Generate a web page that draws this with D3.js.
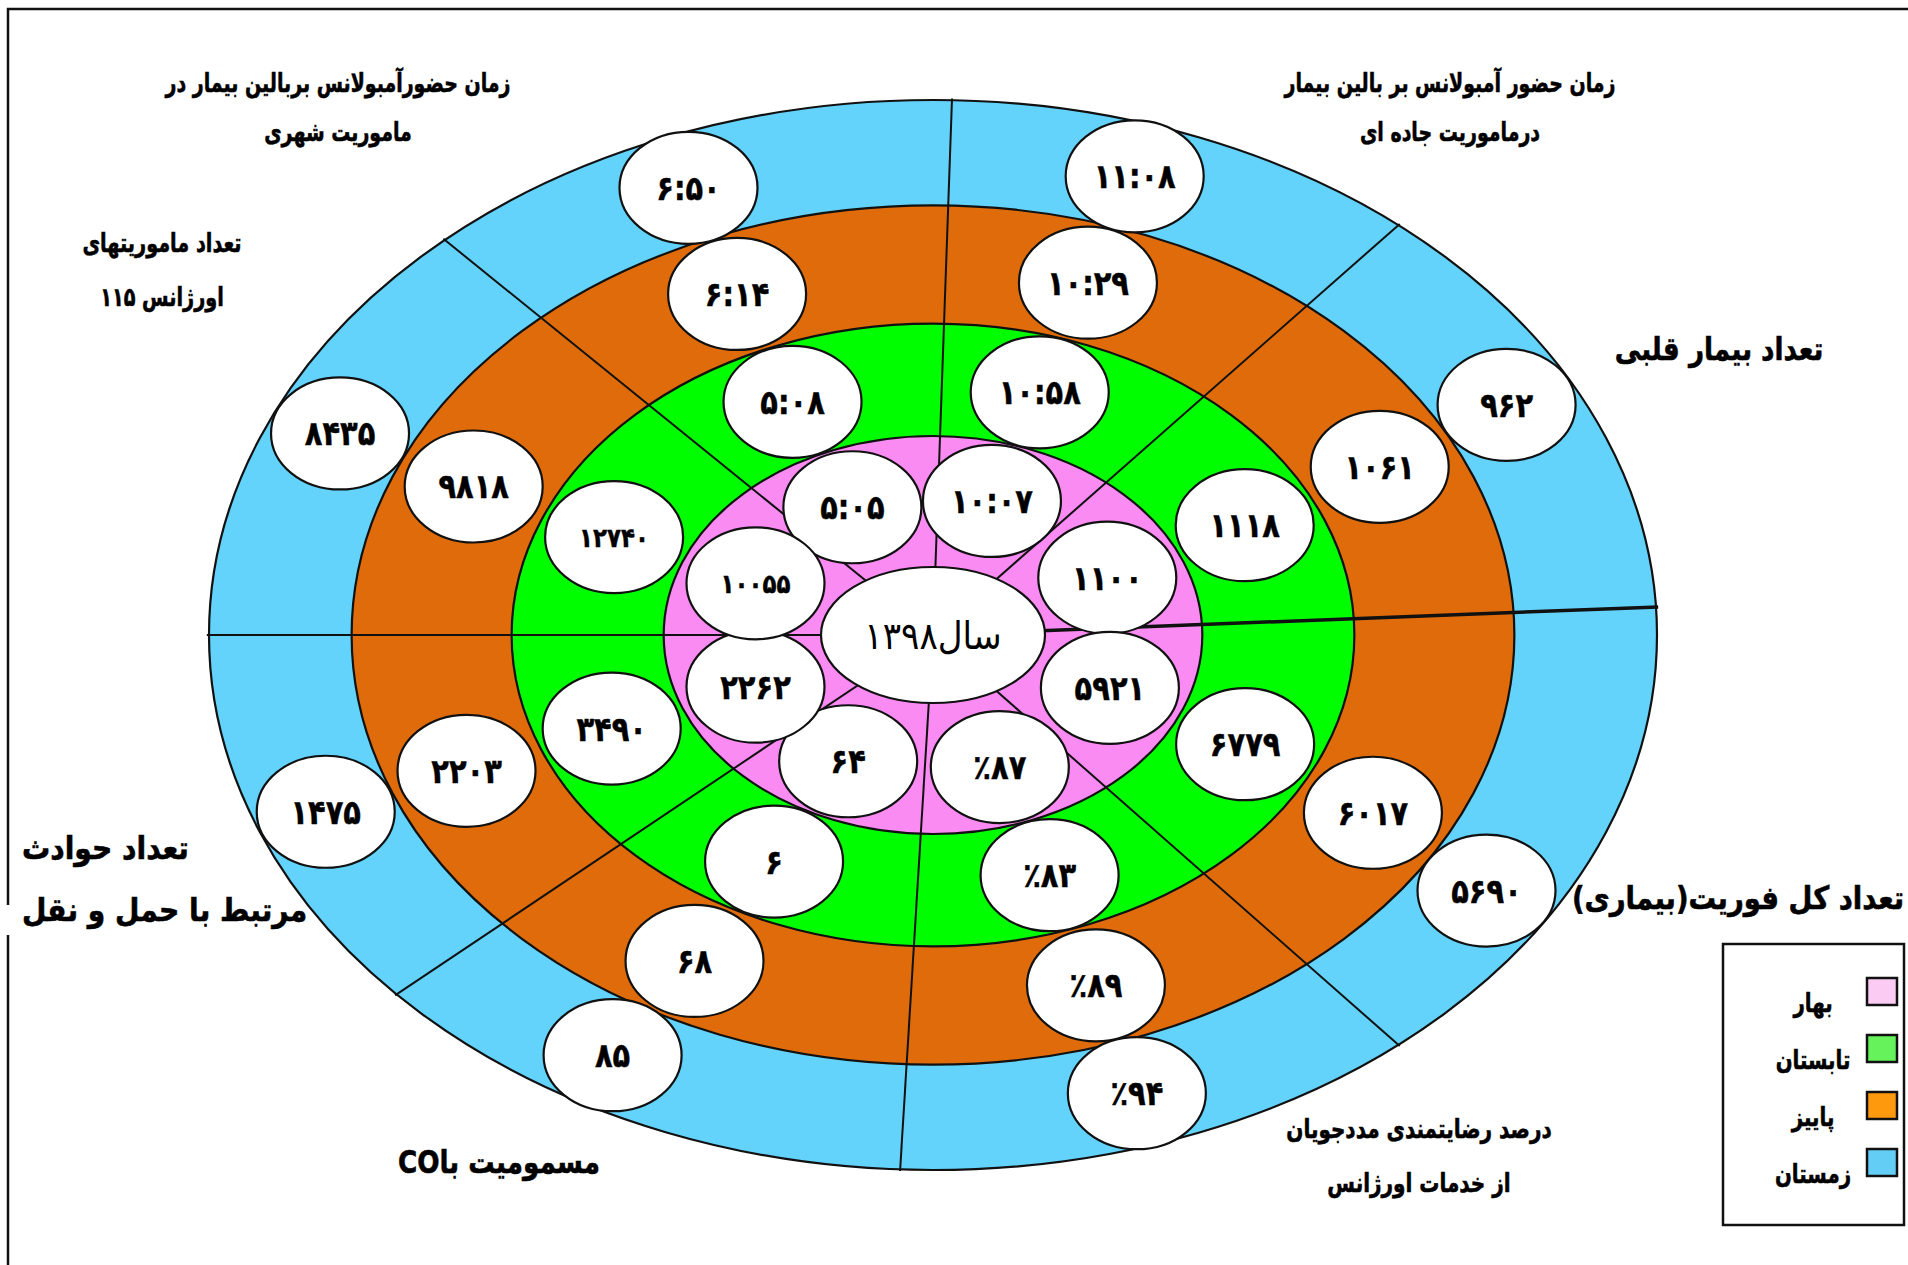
<!DOCTYPE html>
<html>
<head>
<meta charset="utf-8">
<script src="https://cdn.jsdelivr.net/npm/d3@7"></script>
<style>
  html, body { margin: 0; padding: 0; background: #fff; }
  svg { display: block; font-family: "DejaVu Sans", sans-serif; }
</style>
</head>
<body>
<svg id="chart" width="1908" height="1265"></svg>
<script>
const SEASONS = ['بهار', 'تابستان', 'پاییز', 'زمستان'];

// ring colors (spring -> winter) and the lighter legend swatches
const RING_COLORS = ['#f98bf2', '#00fe00', '#df6b0b', '#63d3fc'];
const SWATCH_COLORS = ['#fbcbf4', '#66f25b', '#fe980d', '#63cdf6'];

const INDICATORS = [
  ['زمان حضورآمبولانس بربالین بیمار در', 'ماموریت شهری'],
  ['زمان حضور آمبولانس بر بالین بیمار', 'درماموریت جاده ای'],
  ['تعداد بیمار قلبی'],
  ['تعداد کل فوریت(بیماری)'],
  ['درصد رضایتمندی مددجویان', 'از خدمات اورژانس'],
  ['مسمومیت باCO'],
  ['تعداد حوادث', 'مرتبط با حمل و نقل'],
  ['تعداد ماموریتهای', 'اورژانس ۱۱۵'],
];
const UNITS = ['time', 'time', 'count', 'count', 'percent', 'count', 'count', 'count'];

const SPRING = ['5:05', '10:07', 1100, 5921, 87, 64, 2262, 10055];
const SUMMER = ['5:08', '10:58', 1118, 6779, 83, 6, 3490, 12740];
const AUTUMN = ['6:14', '10:29', 1061, 6017, 89, 68, 2203, 9818];
const WINTER = ['6:50', '11:08', 962, 5690, 94, 85, 1475, 8435];
const SERIES = [SPRING, SUMMER, AUTUMN, WINTER];

const YEAR_LABEL = 'سال۱۳۹۸';

// ---- layout ----
const cx = 933, cy = 635, RX = 724, RY = 535;

// sector divider angles, measured on the ellipse normalised to a circle
const DIVIDERS = [-132.4, -88.5, -50, -3, 50, 92.6, 137.8, 180];
// bubble angle for the inner and the outer ring of every sector
const SECTOR_ANGLES = [
  [-115, -112], [-72, -72], [-24, -28.5], [22, 32],
  [69.5, 71.8], [116.4, 119.4], [158.5, 158.5], [-158.5, -155.3],
];

// sx squeezes the text sideways, the source used a condensed face
const LABELS = [
  { x: 338, y: 92, anchor: 'middle', size: 26, gap: 49, sx: 0.73 },
  { x: 1450, y: 92, anchor: 'middle', size: 26, gap: 49, sx: 0.73 },
  { x: 1719, y: 360, anchor: 'middle', size: 32, gap: 0, sx: 0.82 },
  { x: 1572, y: 909, anchor: 'end', size: 32, gap: 0, sx: 0.86 },
  { x: 1419, y: 1138, anchor: 'middle', size: 26, gap: 54, sx: 0.77 },
  { x: 499, y: 1173, anchor: 'middle', size: 32, gap: 0, sx: 0.82 },
  { x: 22, y: 859, anchor: 'end', size: 32, gap: 62, sx: 0.88 },
  { x: 162, y: 252, anchor: 'middle', size: 26, gap: 54, sx: 0.74 },
];

const ringEdge = d3.scaleLinear()
  .domain(d3.range(SEASONS.length + 1))
  .range([0.155, 0.372, 0.582, 0.803, 1]);
const ringMid = i => (ringEdge(i) + ringEdge(i + 1)) / 2;

const rad = d => d * Math.PI / 180;
const pt = (r, deg) => [cx + r * RX * Math.cos(rad(deg)), cy + r * RY * Math.sin(rad(deg))];

const fa = s => String(s).replace(/\d/g, d => '۰۱۲۳۴۵۶۷۸۹'[d]);
const fmt = (v, unit) => unit === 'percent' ? '٪' + fa(v) : fa(v);
const isLong = s => /^[۰-۹]{5}$/.test(s);

const svg = d3.select('#chart');

// frame
svg.append('path')
  .attr('d', 'M8,1265V935M8,905V9H1908')
  .attr('fill', 'none')
  .attr('stroke', '#111')
  .attr('stroke-width', 2.5);

// rings, outermost first
svg.append('g')
  .selectAll('ellipse')
  .data(d3.range(SEASONS.length).reverse())
  .join('ellipse')
    .attr('cx', cx)
    .attr('cy', cy)
    .attr('rx', i => ringEdge(i + 1) * RX)
    .attr('ry', i => ringEdge(i + 1) * RY)
    .attr('fill', i => RING_COLORS[i])
    .attr('stroke', '#111')
    .attr('stroke-width', 2.2);

// sector dividers
svg.append('g')
  .selectAll('line')
  .data(DIVIDERS)
  .join('line')
    .attr('x1', cx)
    .attr('y1', cy)
    .attr('x2', d => pt(1.003, d)[0])
    .attr('y2', d => pt(1.003, d)[1])
    .attr('stroke', '#111')
    .attr('stroke-width', d => d === -3 ? 3.5 : 2);

// center
svg.append('ellipse')
  .attr('cx', cx)
  .attr('cy', cy)
  .attr('rx', 112)
  .attr('ry', 68)
  .attr('fill', '#fff')
  .attr('stroke', '#111')
  .attr('stroke-width', 2.2);

svg.append('text')
  .attr('transform', `translate(${cx},${cy + 14}) scale(0.9,1)`)
  .attr('direction', 'rtl')
  .attr('text-anchor', 'middle')
  .attr('font-size', 38)
  .text(YEAR_LABEL);

// bubbles
const cells = [];
SERIES.forEach((values, s) => {
  values.forEach((v, k) => {
    const angle = d3.scaleLinear().domain([0, SEASONS.length - 1]).range(SECTOR_ANGLES[k])(s);
    const [x, y] = pt(ringMid(s), angle);
    cells.push({ x, y, label: fmt(v, UNITS[k]) });
  });
});

const bubble = svg.append('g')
  .selectAll('g')
  .data(cells)
  .join('g')
    .attr('transform', d => `translate(${d.x},${d.y})`);

bubble.append('ellipse')
  .attr('rx', 69)
  .attr('ry', 56)
  .attr('fill', '#fff')
  .attr('stroke', '#111')
  .attr('stroke-width', 2.2);

bubble.append('text')
  .attr('transform', d => `translate(0,${isLong(d.label) ? 10 : 12}) scale(0.85,1)`)
  .attr('text-anchor', 'middle')
  .attr('font-weight', 'bold')
  .attr('font-size', d => isLong(d.label) ? 27 : 34)
  .attr('stroke', '#000')
  .attr('stroke-width', 0.5)
  .text(d => d.label);

// indicator titles
INDICATORS.forEach((lines, k) => {
  const L = LABELS[k];
  svg.append('g')
    .attr('transform', `translate(${L.x},${L.y}) scale(${L.sx},1)`)
    .selectAll('text')
    .data(lines)
    .join('text')
      .attr('y', (d, i) => i * L.gap)
      .attr('direction', 'rtl')
      .attr('text-anchor', L.anchor)
      .attr('font-weight', 'bold')
      .attr('font-size', L.size)
      .attr('stroke', '#000')
      .attr('stroke-width', 0.6)
      .text(d => d);
});

// legend
const legend = svg.append('g');

legend.append('rect')
  .attr('x', 1723)
  .attr('y', 944)
  .attr('width', 181)
  .attr('height', 281)
  .attr('fill', '#fff')
  .attr('stroke', '#111')
  .attr('stroke-width', 2.5);

const legendY = d3.scaleLinear().domain([0, 1]).range([978, 1035]);

const item = legend.selectAll('g')
  .data(SEASONS)
  .join('g')
    .attr('transform', (d, i) => `translate(0,${legendY(i)})`);

item.append('rect')
  .attr('x', 1867)
  .attr('width', 30)
  .attr('height', 27)
  .attr('fill', (d, i) => SWATCH_COLORS[i])
  .attr('stroke', '#111')
  .attr('stroke-width', 2.5);

item.append('text')
  .attr('transform', 'translate(1813,34) scale(0.76,1)')
  .attr('direction', 'rtl')
  .attr('text-anchor', 'middle')
  .attr('font-weight', 'bold')
  .attr('font-size', 26)
  .attr('stroke', '#000')
  .attr('stroke-width', 0.6)
  .text(d => d);
</script>
</body>
</html>
